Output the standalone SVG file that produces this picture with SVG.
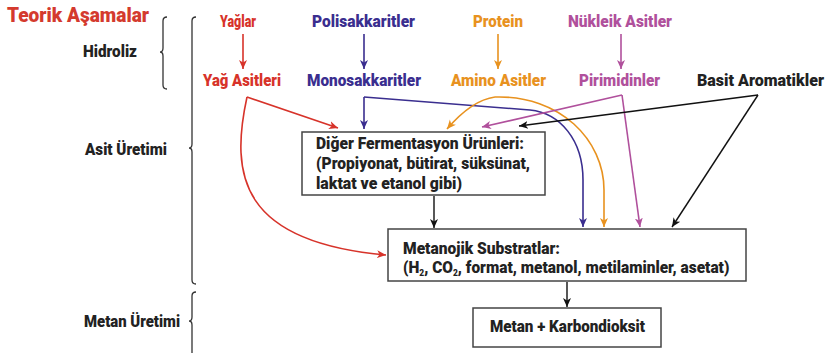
<svg xmlns="http://www.w3.org/2000/svg" width="829" height="353" viewBox="0 0 829 353">
<style>
text{font-family:Roboto,"Liberation Sans",Arial,sans-serif;font-weight:900;font-size:16.5px;fill:#222}
.t{font-size:21px;fill:#d43a2e}
.r{fill:#d7332a}.b{fill:#3a2e8f}.o{fill:#e8921f}.p{fill:#b0509c}
.box{fill:#fff;stroke:#444;stroke-width:1.5}
.br{fill:none;stroke:#333;stroke-width:1.3}
.c{fill:none;stroke-width:1.6}
.cr{stroke:#d7332a}.cb{stroke:#3a2e8f}.co{stroke:#e8921f}.cp{stroke:#b0509c}.ck{stroke:#111;stroke-width:1.4}
</style>
<defs>
<marker id="mr" markerUnits="userSpaceOnUse" markerWidth="10" markerHeight="10" viewBox="0 0 10 10" refX="9" refY="5" orient="auto"><path d="M0,1 L9,5 L0,9 L2.5,5 z" fill="#d7332a"/></marker>
<marker id="mb" markerUnits="userSpaceOnUse" markerWidth="10" markerHeight="10" viewBox="0 0 10 10" refX="9" refY="5" orient="auto"><path d="M0,1 L9,5 L0,9 L2.5,5 z" fill="#3a2e8f"/></marker>
<marker id="mo" markerUnits="userSpaceOnUse" markerWidth="10" markerHeight="10" viewBox="0 0 10 10" refX="9" refY="5" orient="auto"><path d="M0,1 L9,5 L0,9 L2.5,5 z" fill="#e8921f"/></marker>
<marker id="mp" markerUnits="userSpaceOnUse" markerWidth="10" markerHeight="10" viewBox="0 0 10 10" refX="9" refY="5" orient="auto"><path d="M0,1 L9,5 L0,9 L2.5,5 z" fill="#b0509c"/></marker>
<marker id="mk" markerUnits="userSpaceOnUse" markerWidth="10" markerHeight="10" viewBox="0 0 10 10" refX="9" refY="5" orient="auto"><path d="M0,1 L9,5 L0,9 L2.5,5 z" fill="#111"/></marker>
</defs>
<rect width="829" height="353" fill="#fff"/>

<g id="stages">
<text class="t" x="7" y="22" textLength="142" lengthAdjust="spacingAndGlyphs">Teorik Aşamalar</text>
<text x="83" y="57" textLength="54" lengthAdjust="spacingAndGlyphs">Hidroliz</text>
<text x="85" y="155" textLength="82" lengthAdjust="spacingAndGlyphs">Asit Üretimi</text>
<text x="84" y="327" textLength="96" lengthAdjust="spacingAndGlyphs">Metan Üretimi</text>
<path class="br" d="M167,17 Q163,17 163,21 L163,48 Q163,52 160,52 Q163,52 163,56 L163,85 Q163,89 167,89"/>
<path class="br" d="M196,17 Q192,17 192,21 L192,144 Q192,148 189,148 Q192,148 192,152 L192,280 Q192,284 196,284"/>
<path class="br" d="M196,292 Q192,292 192,296 L192,317 Q192,321 189,321 Q192,321 192,325 L192,353"/>
</g>

<g id="yaglar"><text class="r" x="220" y="27" textLength="36" lengthAdjust="spacingAndGlyphs">Yağlar</text></g>
<g id="yag-asitleri"><text class="r" x="203" y="86" textLength="78" lengthAdjust="spacingAndGlyphs">Yağ Asitleri</text></g>
<g id="polisakkaritler"><text class="b" x="312" y="27" textLength="103" lengthAdjust="spacingAndGlyphs">Polisakkaritler</text></g>
<g id="monosakkaritler"><text class="b" x="307" y="86" textLength="114" lengthAdjust="spacingAndGlyphs">Monosakkaritler</text></g>
<g id="protein"><text class="o" x="473" y="27" textLength="50" lengthAdjust="spacingAndGlyphs">Protein</text></g>
<g id="amino-asitler"><text class="o" x="451" y="86" textLength="95" lengthAdjust="spacingAndGlyphs">Amino Asitler</text></g>
<g id="nukleik-asitler"><text class="p" x="568" y="27" textLength="104" lengthAdjust="spacingAndGlyphs">Nükleik Asitler</text></g>
<g id="pirimidinler"><text class="p" x="579" y="86" textLength="81" lengthAdjust="spacingAndGlyphs">Pirimidinler</text></g>
<g id="basit-aromatikler"><text x="697" y="86" textLength="127" lengthAdjust="spacingAndGlyphs">Basit Aromatikler</text></g>

<g id="fermentasyon">
<rect class="box" x="302" y="132" width="243" height="63"/>
<text x="316" y="149" textLength="208" lengthAdjust="spacingAndGlyphs">Diğer Fermentasyon Ürünleri:</text>
<text x="316" y="169" textLength="214" lengthAdjust="spacingAndGlyphs">(Propiyonat, bütirat, süksünat,</text>
<text x="316" y="189" textLength="146" lengthAdjust="spacingAndGlyphs">laktat ve etanol gibi)</text>
</g>

<g id="metanojik">
<rect class="box" x="388" y="229" width="358" height="52"/>
<text x="403" y="254" textLength="157" lengthAdjust="spacingAndGlyphs">Metanojik Substratlar:</text>
<text transform="translate(403,273) scale(0.935,1)" x="0" y="0">(H<tspan font-size="9" dy="3">2</tspan><tspan dy="-3">, CO</tspan><tspan font-size="9" dy="3">2</tspan><tspan dy="-3">, format, metanol, metilaminler, asetat)</tspan></text>
</g>

<g id="metan">
<rect class="box" x="473" y="308" width="188" height="39"/>
<text x="490" y="332" textLength="155" lengthAdjust="spacingAndGlyphs">Metan + Karbondioksit</text>
</g>

<g id="connectors">
<path class="c cr" d="M243,34 L243,69" marker-end="url(#mr)"/>
<path class="c cb" d="M364,34 L364,69" marker-end="url(#mb)"/>
<path class="c co" d="M498,34 L498,69" marker-end="url(#mo)"/>
<path class="c cp" d="M621,34 L621,69" marker-end="url(#mp)"/>

<path class="c cr" d="M247,97 L338,128" marker-end="url(#mr)"/>
<path class="c cr" d="M247,97 C230,175 240,242 386,255" marker-end="url(#mr)"/>

<path class="c cb" d="M364,97 L364,129" marker-end="url(#mb)"/>
<path class="c cb" d="M364,97 L530,110 C560,113 583,140 583,180 L583,227" marker-end="url(#mb)"/>

<path class="c co" d="M495,97 Q472,100 447,129" marker-end="url(#mo)"/>
<path class="c co" d="M495,97 C560,95 604,140 604,190 L604,227" marker-end="url(#mo)"/>

<path class="c cp" d="M622,95 L482,127" marker-end="url(#mp)"/>
<path class="c cp" d="M622,95 L640,227" marker-end="url(#mp)"/>

<path class="c ck" d="M758,95 L519,126" marker-end="url(#mk)"/>
<path class="c ck" d="M758,95 L672,227" marker-end="url(#mk)"/>

<path class="c ck" d="M434,196 L434,228" marker-end="url(#mk)"/>
<path class="c ck" d="M567,282 L567,307" marker-end="url(#mk)"/>
</g>
</svg>
